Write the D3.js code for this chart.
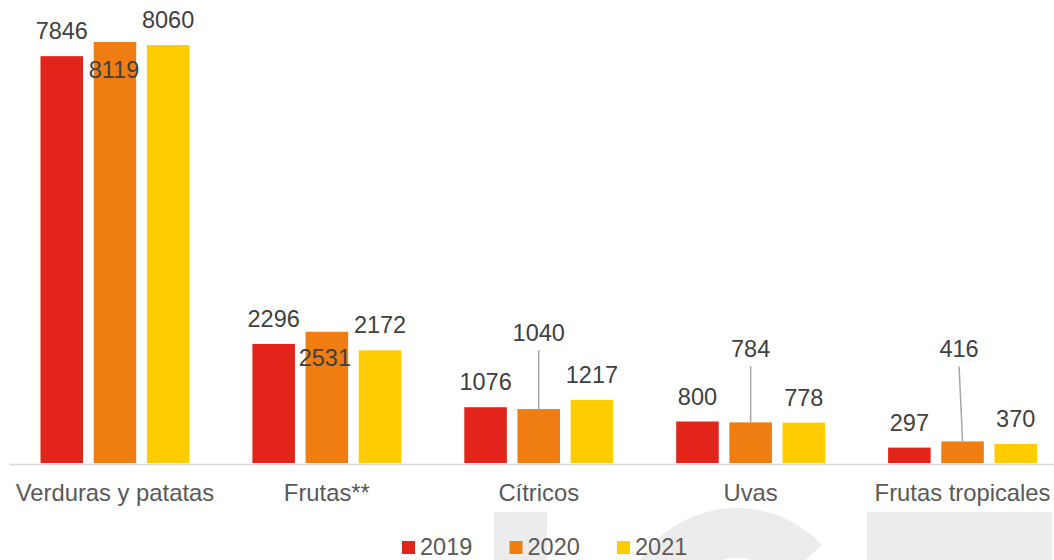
<!DOCTYPE html>
<html>
<head>
<meta charset="utf-8">
<script src="https://cdn.jsdelivr.net/npm/d3@7"></script>
<style>
    body { margin: 0; background: #fff; }
    text { font-family: "Liberation Sans", Arial, sans-serif; }
</style>
</head>
<body>
<div id="my_dataviz"></div>
<script>
// data
const categories = ["Verduras y patatas", "Frutas**", "Cítricos", "Uvas", "Frutas tropicales"];
const years = ["2019", "2020", "2021"];
const values2019 = [7846, 2296, 1076, 800, 297];
const values2020 = [8119, 2531, 1040, 784, 416];
const values2021 = [8060, 2172, 1217, 778, 370];

const colors = ["#e3241b", "#ef7d12", "#ffcc00"];

// labels that were moved by hand: [dx, baseline relative to bar top], leader = draw a line
const movedLabels = {
    "Verduras y patatas|2020": { dx: -1, dy: 36 },
    "Frutas**|2020": { dx: -2, dy: 34 },
    "Cítricos|2020": { dx: 0, dy: -68, leader: true },
    "Uvas|2020": { dx: 0, dy: -65, leader: true },
    "Frutas tropicales|2020": { dx: -3.5, dy: -84, leader: true }
};

const width = 1054;
const height = 560;
const baseline = 463;

const data = categories.map((c, i) => ({
    name: c,
    "2019": values2019[i],
    "2020": values2020[i],
    "2021": values2021[i]
}));

const svg = d3.select("#my_dataviz")
    .append("svg")
    .attr("width", width)
    .attr("height", height);

// background watermark
const mark = svg.append("g").attr("fill", "#ececec");
mark.append("rect").attr("x", 494).attr("y", 512).attr("width", 53).attr("height", 60);
mark.append("path")
    .attr("transform", "translate(737, 624)")
    .attr("d", d3.arc()
        .innerRadius(66)
        .outerRadius(116)
        .startAngle(-3.96)
        .endAngle(0.82)());
mark.append("rect").attr("x", 867).attr("y", 512).attr("width", 185).attr("height", 60);

// scales
const x0 = d3.scaleBand()
    .domain(categories)
    .range([9, 1068.5])
    .padding(0);

const x1 = d3.scaleBand()
    .domain(years)
    .range([31.5, x0.bandwidth() - 31.5])
    .paddingInner(0.2);

const y = d3.scaleLinear()
    .domain([0, d3.max(data, d => d3.max(years, k => d[k]))])
    .range([baseline, 42]);

const color = d3.scaleOrdinal().domain(years).range(colors);

// x axis
svg.append("g")
    .attr("transform", `translate(0, ${baseline + 1})`)
    .call(d3.axisBottom(x0).tickSize(0).tickPadding(20))
    .call(g => g.select(".domain").attr("stroke", "#d9d9d9").attr("stroke-width", 1.5))
    .call(g => g.selectAll("text")
        .attr("fill", "#595959")
        .style("font-size", "23.8px")
        .style("font-family", "'Liberation Sans', Arial, sans-serif"));

// bars
const groups = svg.append("g")
    .selectAll("g")
    .data(data)
    .join("g")
    .attr("transform", d => `translate(${x0(d.name)}, 0)`);

const cells = groups.selectAll("g")
    .data(d => years.map(k => ({ name: d.name, key: k, value: d[k] })))
    .join("g");

cells.append("rect")
    .attr("x", d => x1(d.key))
    .attr("y", d => y(d.value))
    .attr("width", x1.bandwidth())
    .attr("height", d => baseline - y(d.value))
    .attr("fill", d => color(d.key));

// leader lines
cells.filter(d => movedLabels[d.name + "|" + d.key] && movedLabels[d.name + "|" + d.key].leader)
    .append("line")
    .attr("x1", d => x1(d.key) + x1.bandwidth() / 2 + movedLabels[d.name + "|" + d.key].dx)
    .attr("y1", d => y(d.value) + movedLabels[d.name + "|" + d.key].dy + 9)
    .attr("x2", d => x1(d.key) + x1.bandwidth() / 2)
    .attr("y2", d => y(d.value))
    .attr("stroke", "#a6a6a6")
    .attr("stroke-width", 1.5);

// data labels
cells.append("text")
    .attr("x", d => {
        const m = movedLabels[d.name + "|" + d.key];
        return x1(d.key) + x1.bandwidth() / 2 + (m ? m.dx : 0);
    })
    .attr("y", d => {
        const m = movedLabels[d.name + "|" + d.key];
        return y(d.value) + (m ? m.dy : -17);
    })
    .attr("text-anchor", "middle")
    .attr("fill", "#404040")
    .style("font-size", "23.5px")
    .text(d => d.value);

// legend
const legend = svg.append("g")
    .selectAll("g")
    .data(years)
    .join("g")
    .attr("transform", (d, i) => `translate(${402 + i * 107.5}, 0)`);

legend.append("rect")
    .attr("x", 0)
    .attr("y", 541)
    .attr("width", 13)
    .attr("height", 13)
    .attr("fill", d => color(d));

legend.append("text")
    .attr("x", 18)
    .attr("y", 555)
    .attr("fill", "#595959")
    .style("font-size", "23.5px")
    .text(d => d);
</script>
</body>
</html>
